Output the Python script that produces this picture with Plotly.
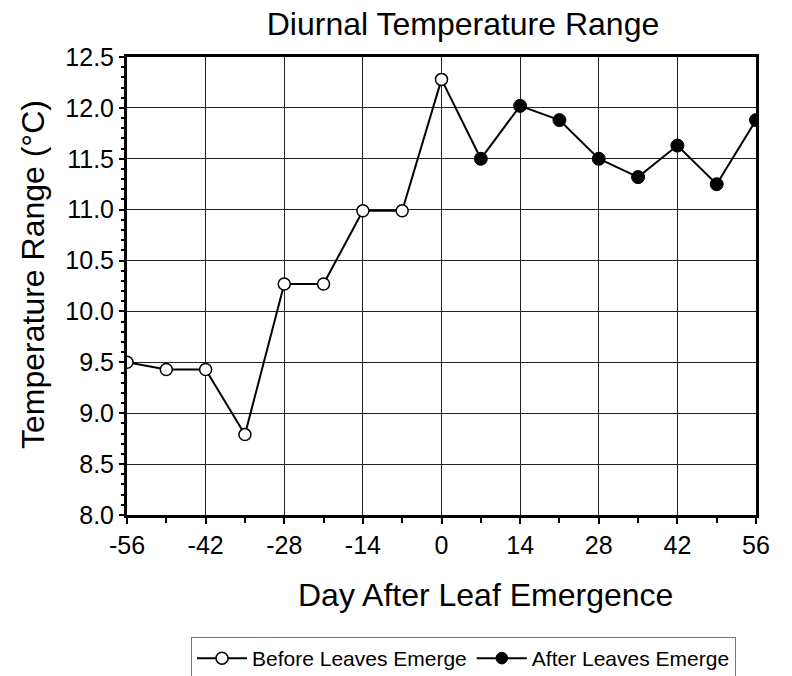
import plotly.graph_objects as go

# Días respecto a la emergencia de hojas
days_before = [-56, -49, -42, -35, -28, -21, -14, -7, 0]
range_before = [9.50, 9.43, 9.43, 8.79, 10.27, 10.27, 10.99, 10.99, 12.28]

days_after = [0, 7, 14, 21, 28, 35, 42, 49, 56]
range_after = [12.28, 11.50, 12.02, 11.88, 11.50, 11.32, 11.63, 11.25, 11.88]

x_ticks = [-56, -42, -28, -14, 0, 14, 28, 42, 56]
x_labels = ["-56", "-42", "-28", "-14", "0", "14", "28", "42", "56"]
y_ticks = [8.0, 8.5, 9.0, 9.5, 10.0, 10.5, 11.0, 11.5, 12.0, 12.5]

FONT = "Liberation Sans, Arial, sans-serif"

fig = go.Figure()

# Serie "after" primero para que el círculo abierto en 0 quede encima
fig.add_trace(go.Scatter(
    x=days_after, y=range_after,
    mode="lines+markers",
    name="After Leaves Emerge",
    line=dict(color="black", width=2),
    marker=dict(size=[0] + [13] * (len(days_after) - 1), color="black",
                opacity=1, line=dict(color="black", width=1)),
))

fig.add_trace(go.Scatter(
    x=days_before, y=range_before,
    mode="lines+markers",
    name="Before Leaves Emerge",
    line=dict(color="black", width=2),
    marker=dict(size=12, color="white", opacity=1,
                line=dict(color="black", width=1.5)),
))

fig.update_layout(
    width=784, height=668,
    paper_bgcolor="white",
    plot_bgcolor="white",
    font=dict(family=FONT, color="black", size=25),
    margin=dict(l=119, r=36, t=49, b=161, autoexpand=False),
    title=dict(text="Diurnal Temperature Range", x=455 / 784, xanchor="center",
               y=1 - 16 / 668, yanchor="middle", font=dict(size=32)),
    showlegend=True,
    legend=dict(
        orientation="h", traceorder="reversed",
        x=(183 - 119) / 629, xanchor="left", y=-(629 - 507) / 458, yanchor="top",
        bordercolor="#777777", borderwidth=1,
        font=dict(size=21), itemwidth=50,
    ),
    xaxis=dict(
        range=[-56, 56], tickvals=x_ticks, ticktext=x_labels,
        ticks="outside", ticklen=6, tickwidth=1.5, tickcolor="black",
        minor=dict(dtick=7, tick0=-56, ticks="outside", ticklen=5,
                   tickcolor="black", showgrid=False),
        showgrid=True, gridcolor="#222222", gridwidth=1,
        showline=True, linecolor="black", linewidth=3, mirror=True,
        zeroline=False, tickfont=dict(size=25),
    ),
    yaxis=dict(
        range=[8.0, 12.5], tickvals=y_ticks, tickformat=".1f",
        ticks="outside", ticklen=5, tickwidth=1.5, tickcolor="black",
        minor=dict(dtick=0.1, tick0=8.0, ticks="outside", ticklen=3,
                   tickcolor="black", showgrid=False),
        showgrid=True, gridcolor="#222222", gridwidth=1,
        showline=True, linecolor="black", linewidth=3, mirror=True,
        zeroline=False, tickfont=dict(size=25),
    ),
    annotations=[
        dict(text="Day After Leaf Emergence", xref="paper", yref="paper",
             x=(477 - 119) / 629, y=-(587 - 507) / 458,
             xanchor="center", yanchor="middle", showarrow=False,
             font=dict(size=32)),
        dict(text="Temperature Range (°C)", xref="paper", yref="paper",
             x=(25 - 119) / 629, y=(507 - 267) / 458, textangle=-90,
             xanchor="center", yanchor="middle", showarrow=False,
             font=dict(size=32)),
    ],
)

fig.write_html("out.html")
